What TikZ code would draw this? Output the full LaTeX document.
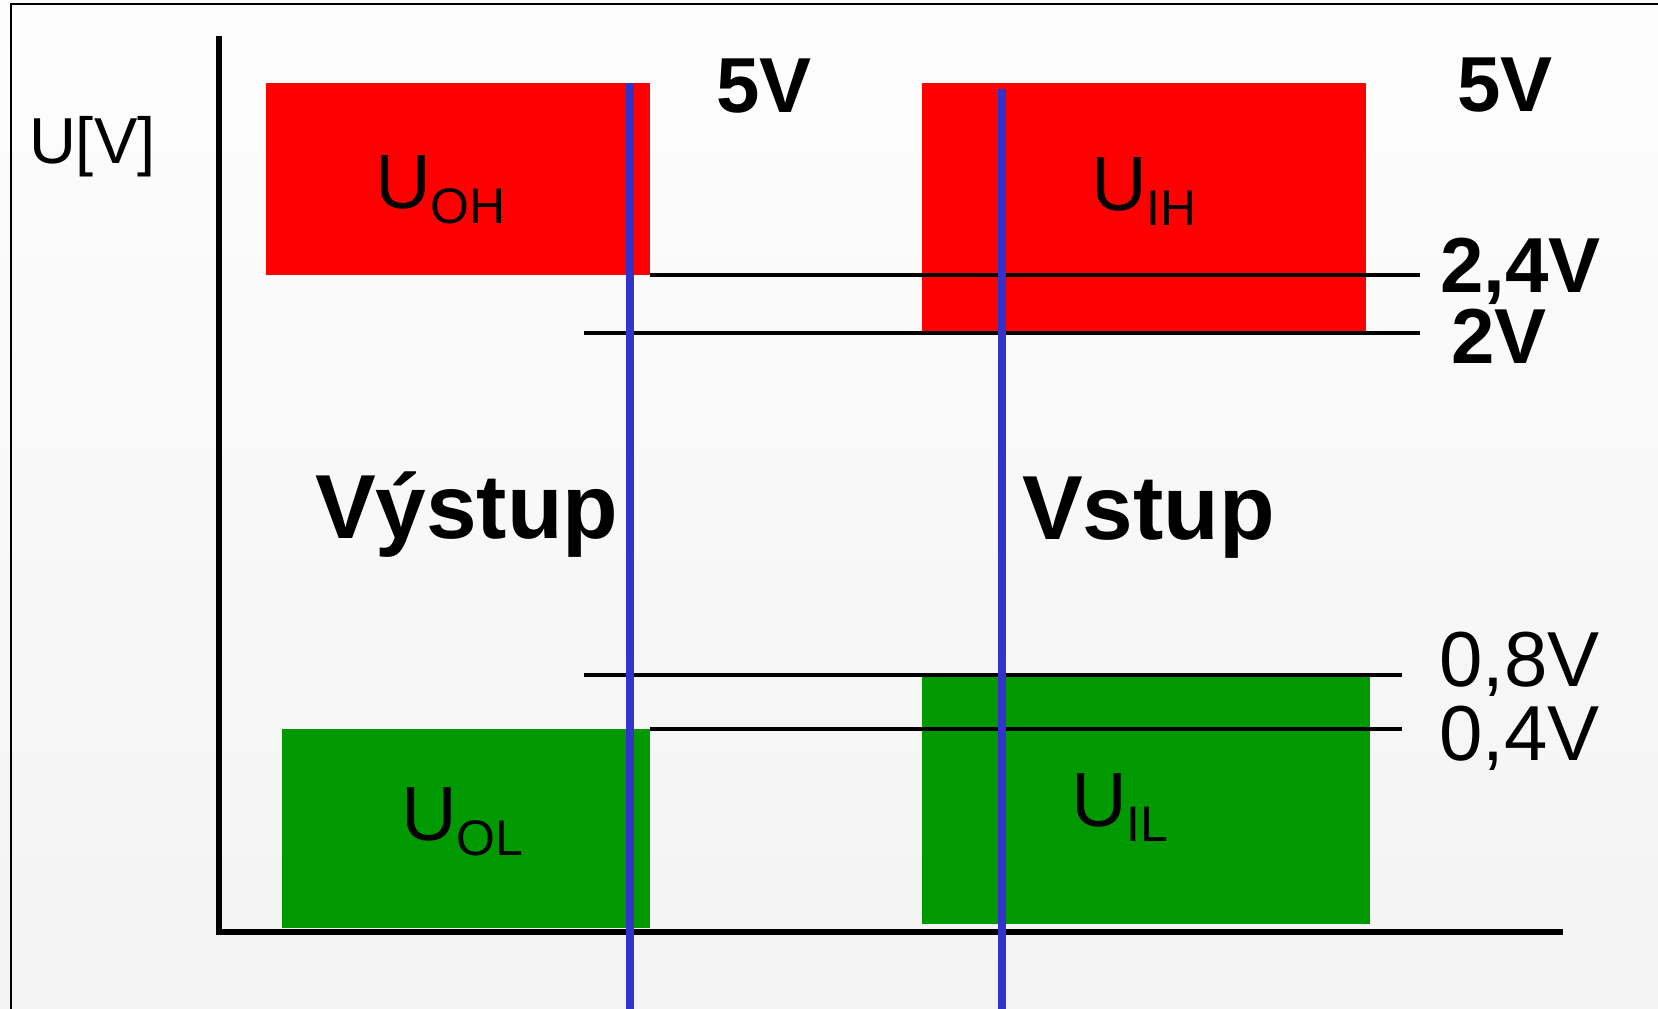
\documentclass[tikz,border=0pt]{standalone}
\usepackage{fontspec}
\setmainfont{Liberation Sans}
\definecolor{hired}{RGB}{255,0,0}
\definecolor{logreen}{RGB}{0,153,0}
\definecolor{probeblue}{RGB}{51,51,204}
\definecolor{bgtop}{RGB}{253,253,253}
\definecolor{bgbot}{RGB}{243,243,243}
\newcommand{\usub}[1]{{\fontsize{77}{77}\selectfont U}\raisebox{-15pt}{\fontsize{50}{50}\selectfont #1}}
\begin{document}
\begin{tikzpicture}[x=1pt,y=-1pt,
  levelline/.style={line width=4pt},
  axisline/.style={line width=6pt},
  probeline/.style={probeblue,line width=8pt},
  txt/.style={anchor=base west,inner sep=0pt,outer sep=0pt},
  bigbold/.style={txt,font=\fontsize{91}{91}\selectfont\bfseries},
  voltb/.style={txt,font=\fontsize{78}{78}\selectfont\bfseries},
  voltr/.style={txt,font=\fontsize{78}{78}\selectfont}]
\useasboundingbox (0,0) rectangle (1658,1009);
\clip (0,0) rectangle (1658,1009);
\shade[top color=bgtop,bottom color=bgbot] (0,0) rectangle (1658,1009);
% frame
\draw[line width=2pt] (11,1020) -- (11,3.7) -- (1670,3.7);
% zones
\fill[hired] (266,83) rectangle (650,275);
\fill[hired] (922,83) rectangle (1366,332);
\fill[logreen] (282,729) rectangle (650,928);
\fill[logreen] (922,677) rectangle (1370,924);
% axes
\draw[axisline] (219,36) -- (219,932);
\draw[axisline] (216,932) -- (1563,932);
% level lines
\draw[levelline] (650,275) -- (1420,275);
\draw[levelline] (584,333) -- (1420,333);
\draw[levelline] (584,675) -- (1402,675);
\draw[levelline] (650,729) -- (1402,729);
% probe lines
\draw[probeline] (630,83) -- (630,1015);
\draw[probeline] (1002,89) -- (1002,1015);
% texts
\node[txt,font=\fontsize{65}{65}\selectfont] (uv) at (29,163) {U[V]};
\node[voltb] (fiveA) at (716,112) {5V};
\node[voltb] (fiveB) at (1457,111) {5V};
\node[voltb] (v24) at (1440,292) {2,4V};
\node[voltb] (v2) at (1451,363) {2V};
\node[voltr] (v08) at (1439,686) {0,8V};
\node[voltr] (v04) at (1439,760) {0,4V};
\node[bigbold] (out) at (315,538) {Výstup};
\node[bigbold] (in) at (1022,539) {Vstup};
\node[txt] (uoh) at (375,208) {\usub{OH}};
\node[txt] (uih) at (1091,210) {\usub{IH}};
\node[txt] (uol) at (401,840) {\usub{OL}};
\node[txt] (uil) at (1071,826) {\usub{IL}};
\end{tikzpicture}
\end{document}
